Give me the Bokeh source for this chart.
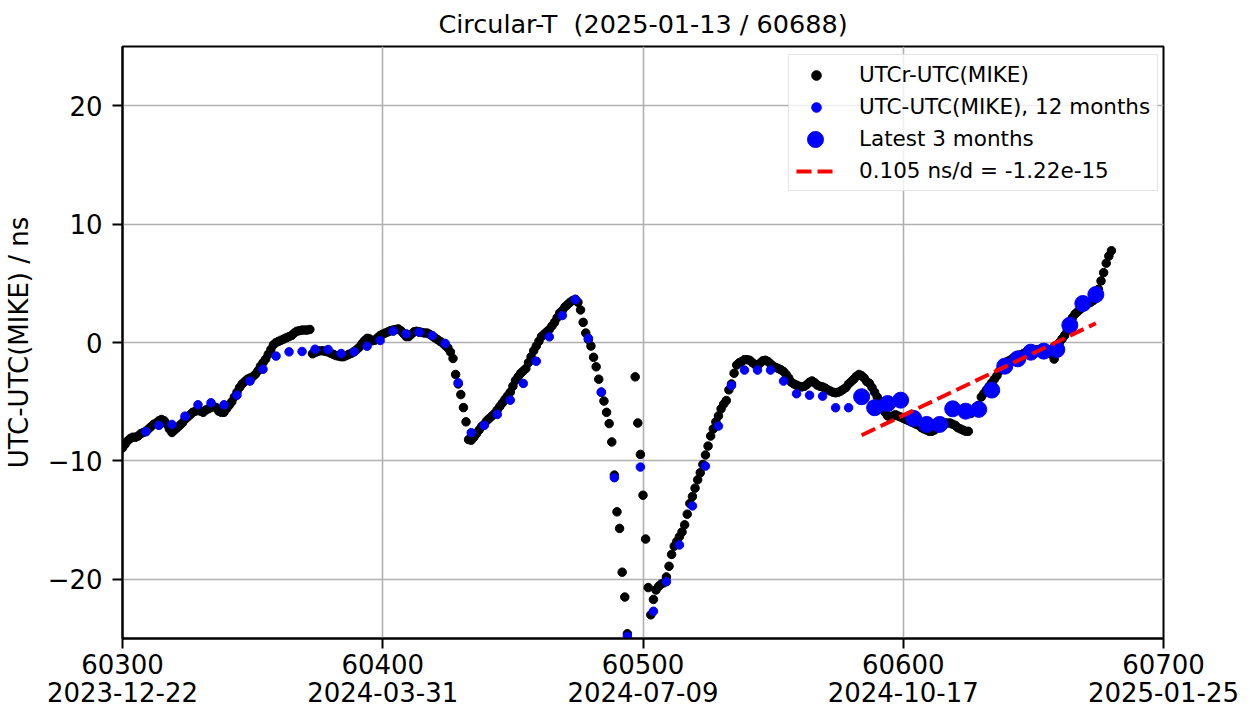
import math
from bokeh.plotting import figure
from bokeh.models import FixedTicker, Legend, LegendItem, Range1d
from bokeh.embed import file_html
from bokeh.resources import INLINE

# ---------------- data ----------------
title_text = "Circular-T \u00a0(2025-01-13 / 60688)"
y_label = "UTC-UTC(MIKE) / ns"

x_ticks = [60300, 60400, 60500, 60600, 60700]
x_tick_labels = ["60300\n2023-12-22", "60400\n2024-03-31", "60500\n2024-07-09",
                 "60600\n2024-10-17", "60700\n2025-01-25"]
y_ticks = [-20, -10, 0, 10, 20]
y_tick_labels = ["\u221220", "\u221210", "0", "10", "20"]

# UTCr - UTC(MIKE), daily from MJD 60300 (None = off chart)
utcr_start = 60300
utcr_vals = [
    -8.9, -8.6, -8.3, -8.1, -8.0, -8.0, -7.9, -7.7, -7.6, -7.5,
    -7.3, -7.1, -6.9, -6.8, -6.6, -6.5, -6.6, -6.9, -7.3, -7.6,
    -7.4, -7.2, -7.0, -6.8, -6.5, -6.3, -6.1, -5.9, -5.8, -5.6,
    -5.8, -5.9, -5.7, -5.6, -5.5, -5.4, -5.5, -5.8, -5.9, -5.9,
    -5.6, -5.3, -5.0, -4.6, -4.2, -3.8, -3.5, -3.3, -3.1, -3.0,
    -2.9, -2.7, -2.4, -2.0, -1.7, -1.4, -1.0, -0.6, -0.2, 0.0,
    0.1, 0.2, 0.3, 0.4, 0.5, 0.6, 0.8, 0.95, 1.0, 1.05,
    1.05, 1.05, 1.1, -0.95, -0.85, -0.75, -0.7, -0.7, -0.75, -0.8,
    -0.9, -1.0, -1.1, -1.15, -1.2, -1.2, -1.1, -1.0, -0.9, -0.75,
    -0.6, -0.4, -0.1, 0.15, 0.35, 0.3, 0.15, 0.2, 0.4, 0.6,
    0.7, 0.8, 0.9, 1.0, 1.05, 1.1, 1.15, 1.0, 0.75, 0.5,
    0.5, 0.7, 0.9, 0.95, 0.9, 0.85, 0.8, 0.8, 0.7, 0.55,
    0.4, 0.25, 0.1, -0.05, -0.25, -0.45, -0.8, -1.35, -2.7, -3.5,
    -4.4, -5.5, -6.7, -8.2, -8.25, -8.0, -7.7, -7.4, -7.1, -6.9,
    -6.6, -6.4, -6.2, -6.0, -5.7, -5.4, -5.1, -4.8, -4.5, -4.2,
    -3.7, -3.2, -2.9, -2.6, -2.4, -2.2, -1.7, -1.2, -0.7, -0.3,
    0.1, 0.5, 0.7, 0.9, 1.1, 1.4, 1.7, 2.1, 2.5, 2.7,
    3.0, 3.2, 3.4, 3.55, 3.65, 3.4, 2.75, 1.7, 0.8, 0.25,
    -0.3, -1.25, -2.05, -3.1, -4.2, -4.95, -5.9, -6.85, -8.4, -11.2,
    -14.3, -15.7, -19.4, -21.5, -24.6, None, None, -2.9, -6.8, -9.45,
    -12.9, -16.6, -20.7, -23.0, -21.7, -20.9, -20.6, -20.4, -20.3, -19.8,
    -18.9, -17.9, -17.2, -16.8, -16.4, -16.0, -15.4, -14.5, -13.6, -13.0,
    -12.3, -11.6, -11.0, -10.3, -9.5, -8.75, -7.9, -7.3, -6.7, -6.2,
    -5.6, -5.2, -4.9, -4.0, -3.5, -2.6, -1.9, -1.7, -1.6, -1.45,
    -1.45, -1.5, -1.7, -1.85, -1.9, -1.75, -1.55, -1.5, -1.6, -1.8,
    -2.0, -2.1, -2.2, -2.3, -2.45, -2.7, -3.0, -3.35, -3.5, -3.6,
    -3.7, -3.75, -3.7, -3.55, -3.35, -3.25, -3.4, -3.6, -3.7, -3.75,
    -3.85, -4.0, -4.1, -4.2, -4.25, -4.2, -4.1, -3.95, -3.8, -3.5,
    -3.3, -3.1, -2.85, -2.7, -2.8, -3.0, -3.3, -3.45, -3.8, -4.2,
    -4.6, -5.0, -5.5, -5.9, -6.2, -6.3, -6.2, -6.1, -6.2, -6.3,
    -6.4, -6.5, -6.6, -6.7, -6.8, -6.9, -7.0, -7.2, -7.3, -7.4,
    -7.5, -7.5, -7.4, -7.2, -7.0, -6.9, -6.8, -6.8, -6.8, -6.9,
    -7.0, -7.2, -7.3, -7.4, -7.5, -7.5, -6.0, -5.8, -5.7, -5.3,
    -4.6, -4.3, -4.0, -3.7, -3.4, -3.1, -2.8, -2.4, -2.0, -1.8,
    -1.6, -1.5, -1.35, -1.25, -1.15, -1.05, -0.95, -0.85, -0.75, -0.7,
    -0.65, -0.6, -0.6, -0.6, -0.6, -0.6, -0.7, -1.0, -1.4, -0.4,
    0.0, 0.3, 0.6, 1.0, 1.5, 2.1, 2.4, 2.6, 2.8, 3.0,
    3.1, 3.3, 3.4, 3.55, 3.7, 4.5, 5.2, 5.9, 6.7, 7.3,
    7.75,
]

# UTC - UTC(MIKE), 5-day values, 12 months
utc_mjd = [60309, 60314, 60319, 60324, 60329, 60334, 60339, 60344, 60349, 60354,
           60359, 60364, 60369, 60374, 60379, 60384, 60389, 60394, 60399, 60404,
           60409, 60414, 60419, 60424, 60429, 60434, 60439, 60444, 60449, 60454,
           60459, 60464, 60469, 60474, 60479, 60484, 60489, 60494, 60499, 60504,
           60509, 60514, 60519, 60524, 60529, 60534, 60539, 60544, 60549, 60554,
           60559, 60564, 60569, 60574, 60579]
utc_vals = [-7.54, -7.0, -6.92, -6.22, -5.26, -5.09, -5.26, -4.45, -3.26, -2.26,
            -1.15, -0.79, -0.76, -0.57, -0.59, -0.93, -0.79, -0.31, 0.17, 0.96,
            0.73, 0.87, 0.59, -0.08, -3.4, -7.62, -7.0, -6.08, -4.87, -3.46,
            -1.58, 0.48, 2.28, 3.63, 0.36, -4.19, -11.42, -24.8, -10.52, -22.7,
            -20.2, -17.1, -13.8, -10.44, -7.06, -3.63, -2.33, -2.33, -2.33, -3.26,
            -4.33, -4.45, -4.53, -5.51, -5.51]

# latest 3 months
last_mjd = [60584, 60589, 60594, 60599, 60604, 60609, 60614, 60619, 60624, 60629,
            60634, 60639, 60644, 60649, 60654, 60659, 60664, 60669, 60674]
last_vals = [-4.58, -5.51, -5.16, -4.87, -6.41, -6.92, -6.92, -5.6, -5.8, -5.65,
             -4.02, -2.0, -1.38, -0.82, -0.73, -0.59, 1.46, 3.29, 4.05]

# linear fit
fit_mjd = [60584, 60674]
fit_vals = [-7.83, 1.62]

legend_labels = ["UTCr-UTC(MIKE)", "UTC-UTC(MIKE), 12 months",
                 "Latest 3 months", "0.105 ns/d = -1.22e-15"]

# ---------------- plot ----------------
FONT = "DejaVu Sans"
utcr_mjd = [utcr_start + i for i in range(len(utcr_vals))]
utcr_y = [float("nan") if v is None else v for v in utcr_vals]

p = figure(width=1250, height=711, output_backend="svg", toolbar_location=None,
           x_range=Range1d(60300, 60700), y_range=Range1d(-25, 25),
           min_border_left=122, min_border_right=87, min_border_top=46,
           min_border_bottom=73, title=title_text)
p.background_fill_color = "white"
p.border_fill_color = "white"
p.outline_line_color = "black"
p.outline_line_width = 2

p.title.text_font = FONT
p.title.text_font_size = "25.5px"
p.title.text_font_style = "normal"
p.title.align = "center"
p.title.text_color = "black"
p.title.standoff = 14
p.title.vertical_align = "middle"

p.xaxis.ticker = FixedTicker(ticks=x_ticks)
p.xaxis.major_label_overrides = dict(zip(x_ticks, x_tick_labels))
p.yaxis.ticker = FixedTicker(ticks=y_ticks)
p.yaxis.major_label_overrides = dict(zip(y_ticks, y_tick_labels))
p.yaxis.axis_label = y_label

for ax in (p.xaxis, p.yaxis):
    ax.major_label_text_font = FONT
    ax.major_label_text_font_size = "26px"
    ax.major_label_text_color = "black"
    ax.axis_label_text_font = FONT
    ax.axis_label_text_font_size = "26px"
    ax.axis_label_text_font_style = "normal"
    ax.axis_label_text_color = "black"
    ax.axis_line_color = "black"
    ax.axis_line_width = 2
    ax.major_tick_line_color = "black"
    ax.major_tick_line_width = 2
    ax.major_tick_out = 10
    ax.major_tick_in = 0
    ax.minor_tick_line_color = None
p.xaxis.major_label_standoff = 1
p.xaxis.major_label_text_line_height = 0.96
p.yaxis.major_label_standoff = 10
p.yaxis.axis_label_standoff = 11

p.grid.grid_line_color = "#b0b0b0"
p.grid.grid_line_width = 1.6

r_black = p.scatter(utcr_mjd, utcr_y, size=8.5, color="black", marker="circle")
r_blue = p.scatter(utc_mjd, utc_vals, size=8.5, color="blue", marker="circle")
r_big = p.scatter(last_mjd, last_vals, size=16, color="blue", marker="circle")
r_fit = p.line(fit_mjd, fit_vals, line_color="red", line_width=4, line_dash="15 6")

# main legend, placed in screen px from the frame's bottom-left corner
legend = Legend(items=[LegendItem(label=legend_labels[0], renderers=[r_black]),
                       LegendItem(label=legend_labels[1], renderers=[r_blue]),
                       LegendItem(label=legend_labels[2], renderers=[r_big]),
                       LegendItem(label=legend_labels[3], renderers=[r_fit])],
                location=(666, 447))
legend.margin = 0
legend.padding = 7
legend.spacing = 7
legend.glyph_width = 40
legend.glyph_height = 24
legend.label_height = 24
legend.label_standoff = 23
legend.label_text_font = FONT
legend.label_text_font_size = "21.5px"
legend.label_text_color = "black"
legend.border_line_color = "#cccccc"
legend.border_line_width = 1.5
legend.background_fill_alpha = 0.8
p.add_layout(legend)

# larger swatch for the "Latest 3 months" key, drawn over the main legend row
big_key = Legend(items=[LegendItem(label=" ", renderers=[r_big])],
                 location=(673, 478))
big_key.margin = 0
big_key.padding = 0
big_key.glyph_width = 40
big_key.glyph_height = 42
big_key.label_height = 20
big_key.label_standoff = 0
big_key.label_text_font_size = "10px"
big_key.border_line_color = None
big_key.background_fill_alpha = 0
p.add_layout(big_key)

open("out.html", "w").write(file_html(p, INLINE))
